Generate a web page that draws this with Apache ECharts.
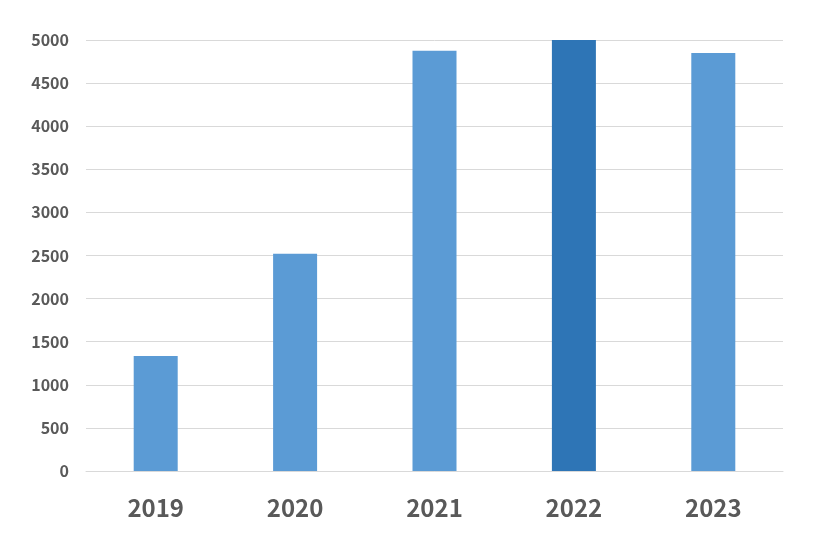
<!DOCTYPE html>
<html>
<head>
<meta charset="utf-8">
<script src="https://cdn.jsdelivr.net/npm/echarts@6/dist/echarts.min.js"></script>
<style>
    html, body { margin: 0; padding: 0; background: #fff; }
    #chart { width: 820px; height: 550px; }
</style>
</head>
<body>
<div id="chart"></div>
<script>
    // data
    var years = ['2019', '2020', '2021', '2022', '2023'];
    var values = [1335, 2520, 4875, 5000, 4850];
    var highlightYear = '2022';

    var chart = echarts.init(document.getElementById('chart'));

    var option = {
        animation: false,
        grid: {
            left: 86,
            right: 37,
            top: 40,
            bottom: 79
        },
        xAxis: {
            type: 'category',
            data: years,
            axisLine: { lineStyle: { color: '#d9d9d9' } },
            axisTick: { show: false },
            axisLabel: {
                color: '#595959',
                fontSize: 24,
                fontWeight: 'bold',
                fontFamily: 'Noto Sans CJK SC',
                margin: 25
            }
        },
        yAxis: {
            type: 'value',
            min: 0,
            max: 5000,
            interval: 500,
            axisLine: { show: false },
            axisTick: { show: false },
            splitLine: { lineStyle: { color: '#d9d9d9' } },
            axisLabel: {
                color: '#595959',
                fontSize: 16,
                fontWeight: 'bold',
                fontFamily: 'Noto Sans CJK SC',
                margin: 17,
                formatter: function (v) {
                    return String(v); // no thousands separator
                }
            }
        },
        series: [
            {
                type: 'bar',
                barWidth: 44,
                data: values.map(function (v, i) {
                    return {
                        value: v,
                        itemStyle: { color: years[i] === highlightYear ? '#2e75b6' : '#5b9bd5' }
                    };
                })
            }
        ]
    };

    chart.setOption(option);
</script>
</body>
</html>
